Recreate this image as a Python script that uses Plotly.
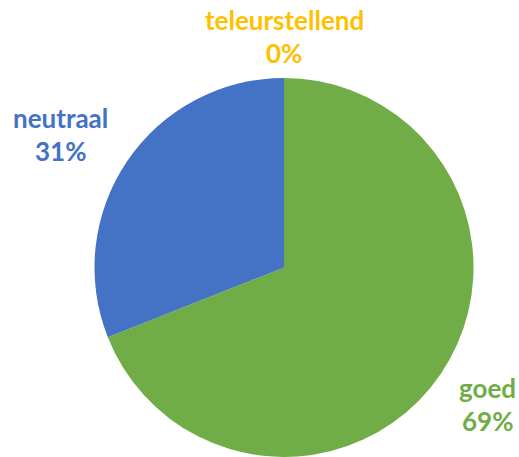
import plotly.graph_objects as go

categories = ["goed", "neutraal", "teleurstellend"]
values = [69, 31, 0]
colors = ["#70AD47", "#4472C4", "#FFC000"]

W, H = 519, 457

def px(x):
    return x / W

def py(y):
    return 1 - y / H

fig = go.Figure(go.Pie(
    labels=categories,
    values=values,
    sort=False,
    direction="clockwise",
    rotation=0,
    marker=dict(colors=colors, line=dict(width=0)),
    textinfo="none",
    hoverinfo="label+percent",
    showlegend=False,
    domain=dict(x=[px(94), px(474)], y=[0, py(78)]),
))

# label positions in pixels (centre x, first line centre y)
label_pos = {"teleurstellend": (284, 20), "neutraal": (60, 118), "goed": (487, 388)}
total = sum(values)
for cat, val, col in zip(categories, values, colors):
    x, y = label_pos[cat]
    pct = f"{round(100 * val / total)}%"
    for i, txt in enumerate([cat, pct]):
        fig.add_annotation(
            x=px(x), y=py(y + i * 33), xref="paper", yref="paper",
            text=f"<b>{txt}</b>", showarrow=False,
            font=dict(family="Lato", size=26, color=col),
            xanchor="center", yanchor="middle",
        )

fig.update_layout(
    width=W, height=H,
    margin=dict(l=0, r=0, t=0, b=0),
    paper_bgcolor="white", plot_bgcolor="white",
)

fig.write_html(
    "out.html",
    config={"displayModeBar": False},
    post_script="document.body.style.margin='0';document.body.style.overflow='hidden';",
)
